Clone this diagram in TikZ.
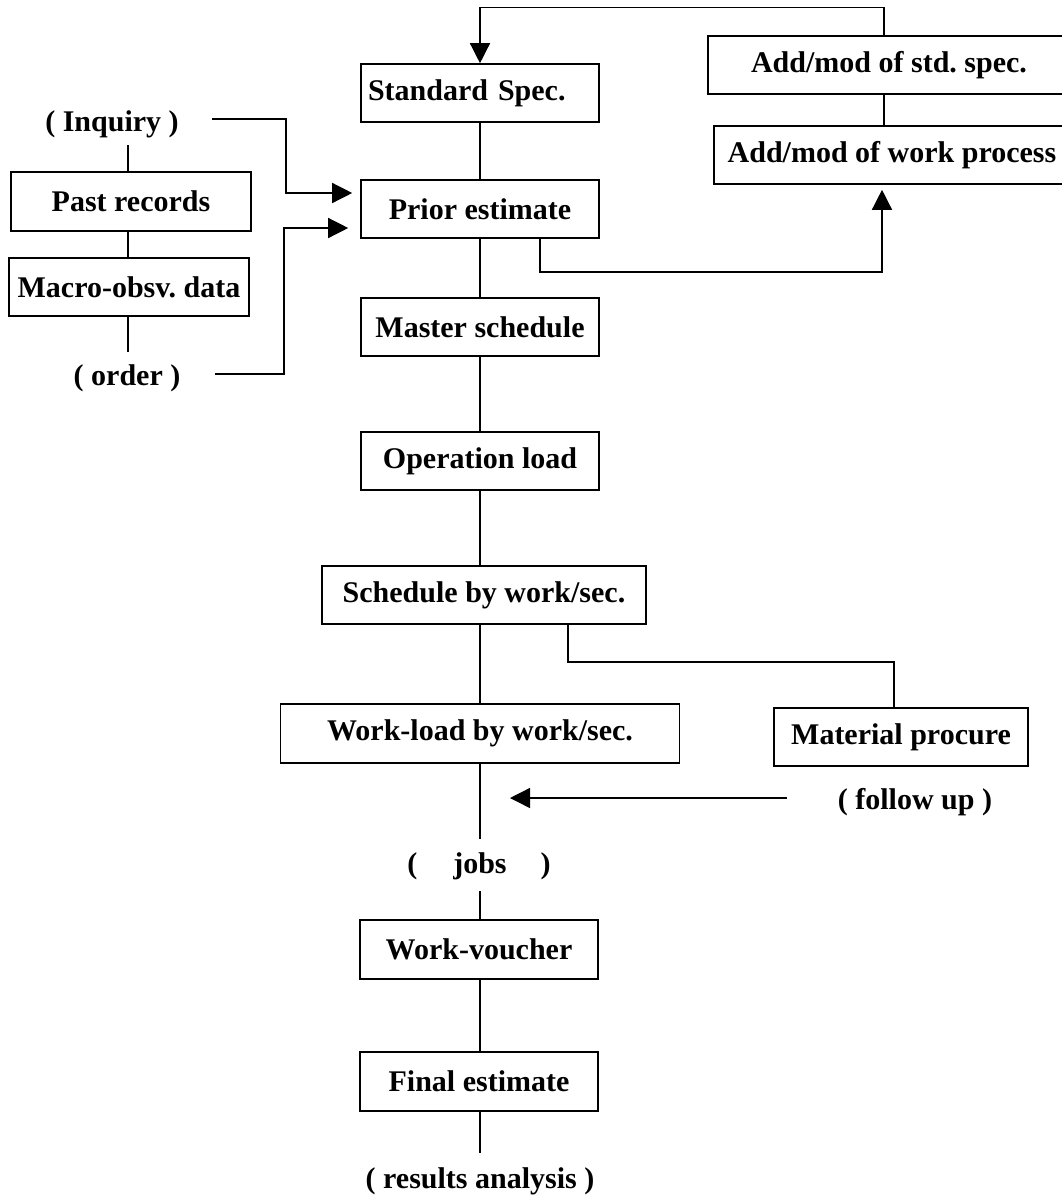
\documentclass[tikz,border=0pt]{standalone}
\usepackage{fontspec}
\setmainfont{Liberation Serif}
\usetikzlibrary{arrows.meta}
\frenchspacing
\tikzset{
  box/.style={draw, line width=1.6pt, inner sep=0pt, minimum height=58pt, align=center,
    font=\fontsize{30}{36}\selectfont\bfseries},
  lbl/.style={inner sep=0pt, font=\fontsize{30}{36}\selectfont\bfseries},
  conn/.style={line width=1.4pt},
  arr/.style={conn, -{Triangle[length=20pt,width=20pt]}}
}
\begin{document}
\begin{tikzpicture}[x=1pt, y=-1pt]
\fill[white] (0,0) rectangle (1062,1200);
\useasboundingbox (0,0) rectangle (1062,1200);
\clip (0,0) rectangle (1062,1200);

% main column
\node[box, minimum width=238pt, text width=224pt, align=left] (std) at (480,93) {Standard Spec.};
\node[box, minimum width=238pt] (prior) at (480,209) {Prior estimate};
\node[box, minimum width=238pt] (master) at (480,327) {Master schedule};
\node[box, minimum width=238pt] (opload) at (480,461) {Operation load};
\node[box, minimum width=324pt] (sched) at (484,595) {Schedule by work/sec.};
\node[box, minimum width=399pt, minimum height=59pt] (workload) at (480,733.5) {Work-load by work/sec.};
\node[lbl] (jobs) at (479,866) {(\hspace{36pt}jobs\hspace{34pt})};
\node[box, minimum width=238pt, minimum height=59pt] (voucher) at (479,949.5) {Work-voucher};
\node[box, minimum width=238pt, minimum height=59pt] (final) at (479,1081.5) {Final estimate};
\node[lbl] (results) at (480,1181) {( results analysis )};

% right side
\node[box, minimum width=362pt] (addstd) at (889,65) {Add/mod of std. spec.};
\node[box, minimum width=356pt] (addwp) at (892,155) {Add/mod of work process};
\node[box, minimum width=254pt] (material) at (901,737) {Material procure};
\node[lbl] (follow) at (915,802) {( follow up )};

% left side
\node[lbl] (inq) at (112,124) {( Inquiry )};
\node[box, minimum width=240pt, minimum height=59pt] (past) at (131,201.5) {Past records};
\node[box, minimum width=240pt] (macro) at (129,287) {Macro-obsv. data};
\node[lbl] (order) at (127,378) {( order )};

% coordinates for free ends and bends
\coordinate (top) at (884,7.5);
\coordinate (pb) at (540,272);
\coordinate (pc) at (882,272);
\coordinate (i1) at (212,119);
\coordinate (i2) at (286,193);
\coordinate (o1) at (215,374);
\coordinate (o2) at (284,228);
\coordinate (iq) at (128,145);
\coordinate (oq) at (128,352);
\coordinate (m1) at (568,662);
\coordinate (m2) at (894,662);
\coordinate (f1) at (787,798);
\coordinate (f2) at (510,798);
\coordinate (wl) at (480,839);
\coordinate (jb) at (480,891);
\coordinate (ra) at (480,1153);

% spine
\draw[conn] (std) -- (prior);
\draw[conn] (prior) -- (master);
\draw[conn] (master) -- (opload);
\draw[conn] (opload) -- (opload |- sched.north);
\draw[conn] (workload |- sched.south) -- (workload);
\draw[conn] (workload) -- (wl);
\draw[conn] (jb) -- (jb |- voucher.north);
\draw[conn] (jb |- voucher.south) -- (jb |- final.north);
\draw[conn] (jb |- final.south) -- (ra);

% feedback to standard spec
\draw[arr] (top |- addstd.north) -- (top) -| (std.north);
\draw[conn] (top |- addstd.south) -- (top |- addwp.north);
\draw[arr, shorten >=5pt] (pb |- prior.south) -- (pb) -- (pc) -- (pc |- addwp.south);

% inputs on the left
\draw[conn] (iq) -- (iq |- past.north);
\draw[conn] (iq |- past.south) -- (iq |- macro.north);
\draw[conn] (iq |- macro.south) -- (oq);
\draw[arr, shorten >=8pt] (i1) -| (i2) -- (i2 -| prior.west);
\draw[arr, shorten >=12pt] (o1) -| (o2) -- (o2 -| prior.west);

% material branch
\draw[conn] (m1 |- sched.south) -- (m1) -- (m2) -- (m2 |- material.north);
\draw[arr] (f1) -- (f2);
\end{tikzpicture}
\end{document}
